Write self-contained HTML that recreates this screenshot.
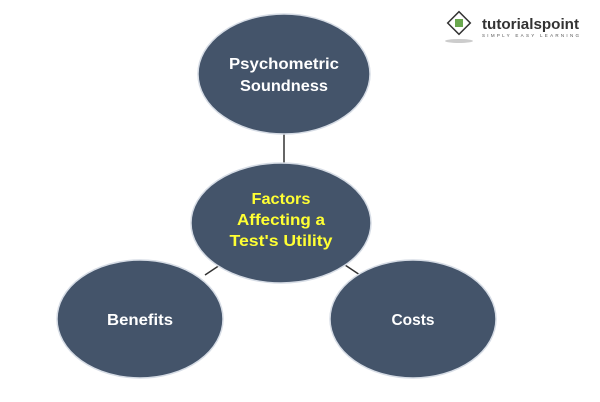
<!DOCTYPE html>
<html><head><style>body{margin:0;background:#fff}svg{display:block}</style></head><body>
<svg width="600" height="402" xmlns="http://www.w3.org/2000/svg" font-family="Liberation Sans, sans-serif" font-weight="bold" text-anchor="middle">
<g stroke="#333" stroke-width="1.5">
<line x1="284" y1="133" x2="284" y2="164"/>
<line x1="205" y1="275" x2="220" y2="265"/>
<line x1="345" y1="265" x2="360" y2="275"/>
</g>
<g fill="#44546a" stroke="#d6dce5" stroke-width="1.5">
<ellipse cx="284" cy="74" rx="86" ry="60"/>
<ellipse cx="281" cy="223" rx="90" ry="60"/>
<ellipse cx="140" cy="319" rx="83" ry="59"/>
<ellipse cx="413" cy="319" rx="83" ry="59"/>
</g>
<g fill="#fff" font-size="16">
<text x="284" y="69" textLength="110" lengthAdjust="spacingAndGlyphs">Psychometric</text>
<text x="284" y="91" textLength="88" lengthAdjust="spacingAndGlyphs">Soundness</text>
<text x="140" y="325" textLength="66" lengthAdjust="spacingAndGlyphs">Benefits</text>
<text x="413" y="325" textLength="43" lengthAdjust="spacingAndGlyphs">Costs</text>
</g>
<g fill="#ffff33" font-size="16">
<text x="281" y="204" textLength="59" lengthAdjust="spacingAndGlyphs">Factors</text>
<text x="281" y="225" textLength="88" lengthAdjust="spacingAndGlyphs">Affecting a</text>
<text x="281" y="246" textLength="103" lengthAdjust="spacingAndGlyphs">Test's Utility</text>
</g>
<g>
<rect x="451" y="15" width="16" height="16" transform="rotate(45 459 23)" fill="#fff" stroke="#333" stroke-width="1.5"/>
<rect x="455" y="19" width="8" height="8" fill="#6aa84f"/>
<ellipse cx="459" cy="41" rx="14" ry="2" fill="#ccc"/>
<text x="482" y="29" font-size="15" fill="#333" text-anchor="start" textLength="97" lengthAdjust="spacingAndGlyphs">tutorialspoint</text>
<text x="482" y="37" font-size="4.5" fill="#555" font-weight="normal" text-anchor="start" textLength="97" lengthAdjust="spacing">SIMPLY EASY LEARNING</text>
</g>
</svg>
</body></html>
